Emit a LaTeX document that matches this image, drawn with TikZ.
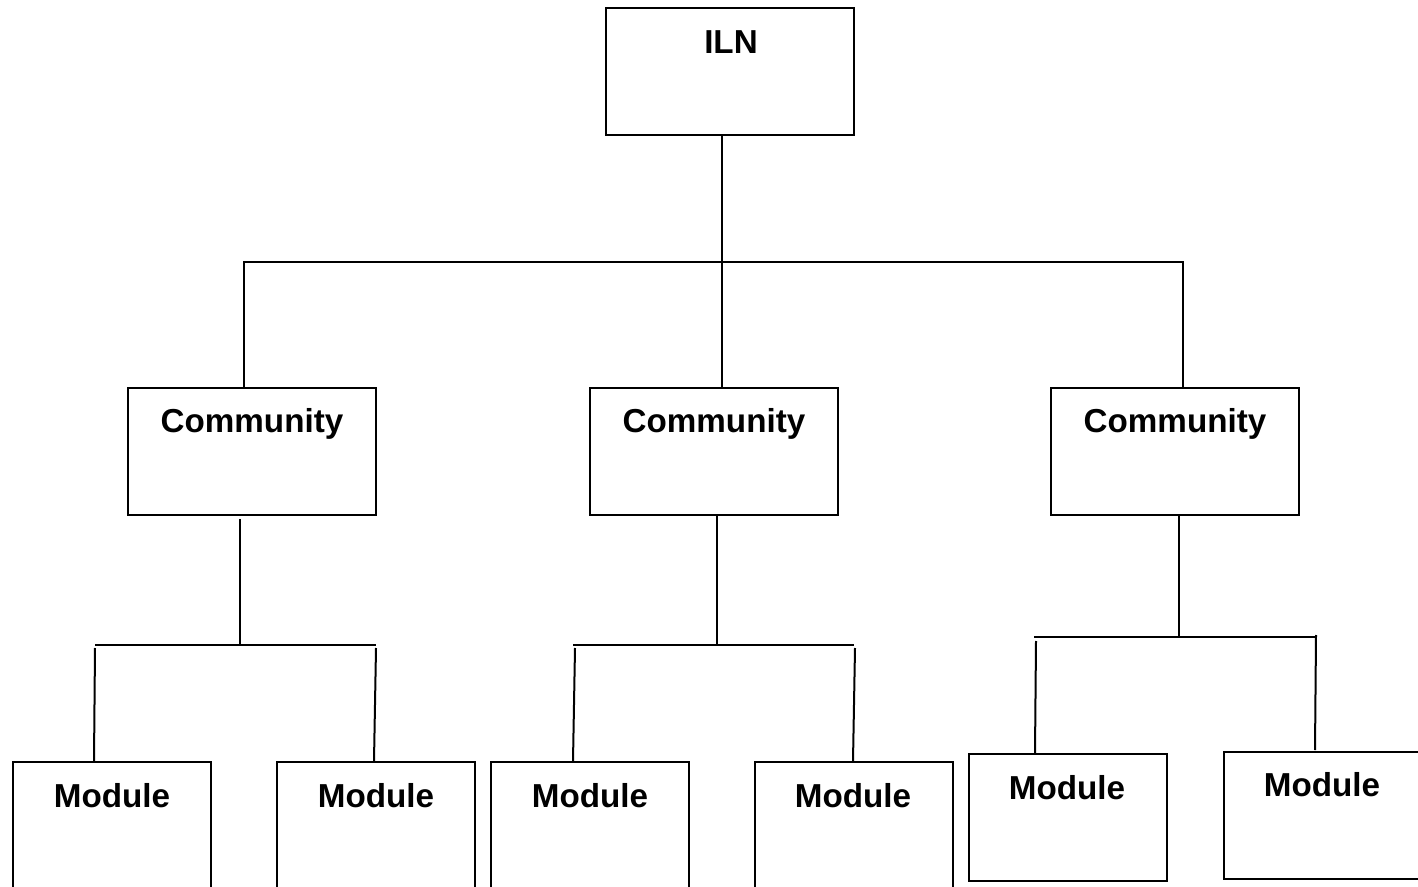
\documentclass[tikz,border=0pt]{standalone}
\usepackage{fontspec}
\setmainfont{Liberation Sans}
\begin{document}
\begin{tikzpicture}[x=0.5pt,y=-0.5pt, line width=1pt,
  box/.style={draw, minimum width=124pt, minimum height=63.5pt, inner sep=0pt},
  mbox/.style={draw, minimum width=99pt, minimum height=63.5pt, inner sep=0pt},
  lbl/.style={anchor=base, font=\bfseries\fontsize{16.6}{20}\selectfont, inner sep=0pt}]
\useasboundingbox (0,0) rectangle (1418,887);
\clip (0,0) rectangle (1418,887);
\fill[white] (0,0) rectangle (1418,887);
% boxes
\node[box] (iln) at (730,71.5) {};
\node[box] (com1) at (252,451.5) {};
\node[box] (com2) at (714,451.5) {};
\node[box] (com3) at (1175,451.5) {};
\node[mbox] (m1) at (112,825.5) {};
\node[mbox] (m2) at (376,825.5) {};
\node[mbox] (m3) at (590,825.5) {};
\node[mbox] (m4) at (854,825.5) {};
\node[mbox] (m5) at (1067.5,817.5) {};
\node[mbox] (m6) at (1323,815) {};
% labels
\node[lbl] (tiln) at (731,54) {ILN};
\node[lbl] (tc1) at (252,432) {Community};
\node[lbl] (tc2) at (714,432) {Community};
\node[lbl] (tc3) at (1175,432) {Community};
\node[lbl] (tm1) at (112,807) {Module};
\node[lbl] (tm2) at (376,807) {Module};
\node[lbl] (tm3) at (590,807) {Module};
\node[lbl] (tm4) at (853,807) {Module};
\node[lbl] (tm5) at (1067,799) {Module};
\node[lbl] (tm6) at (1322,796) {Module};
% junction coordinates
\coordinate (t0) at (722,262);
\coordinate (tl) at (244,262);
\coordinate (tr) at (1183,262);
\coordinate (a0) at (240,645);
\coordinate (al) at (95,645);
\coordinate (ar) at (376,645);
\coordinate (b0) at (717,645);
\coordinate (bl) at (573,645);
\coordinate (br) at (854,645);
\coordinate (c0) at (1179,637);
\coordinate (cl) at (1034,637);
\coordinate (cr) at (1316,637);
% top level
\draw (iln.south -| t0) -- (com2.north -| t0);
\draw (com1.north -| tl) -- (tl) -- (tr) -- (com3.north -| tr);
% community 1
\draw ([yshift=-1.5pt]com1.south -| a0) -- (a0);
\draw (al) -- (ar);
\draw ([shift={(0,-1.5pt)}]al) -- (m1.north -| 94,0);
\draw ([shift={(0,-1.5pt)}]ar) -- (m2.north -| 374,0);
% community 2
\draw (com2.south -| b0) -- (b0);
\draw (bl) -- (br);
\draw (575,648) -- (m3.north -| 573,0);
\draw (855,648) -- (m4.north -| 853,0);
% community 3
\draw (com3.south -| c0) -- (c0);
\draw (cl) -- (cr);
\draw (1036,641) -- (m5.north -| 1035,0);
\draw (1316,635) -- (1315,750);
\end{tikzpicture}
\end{document}
